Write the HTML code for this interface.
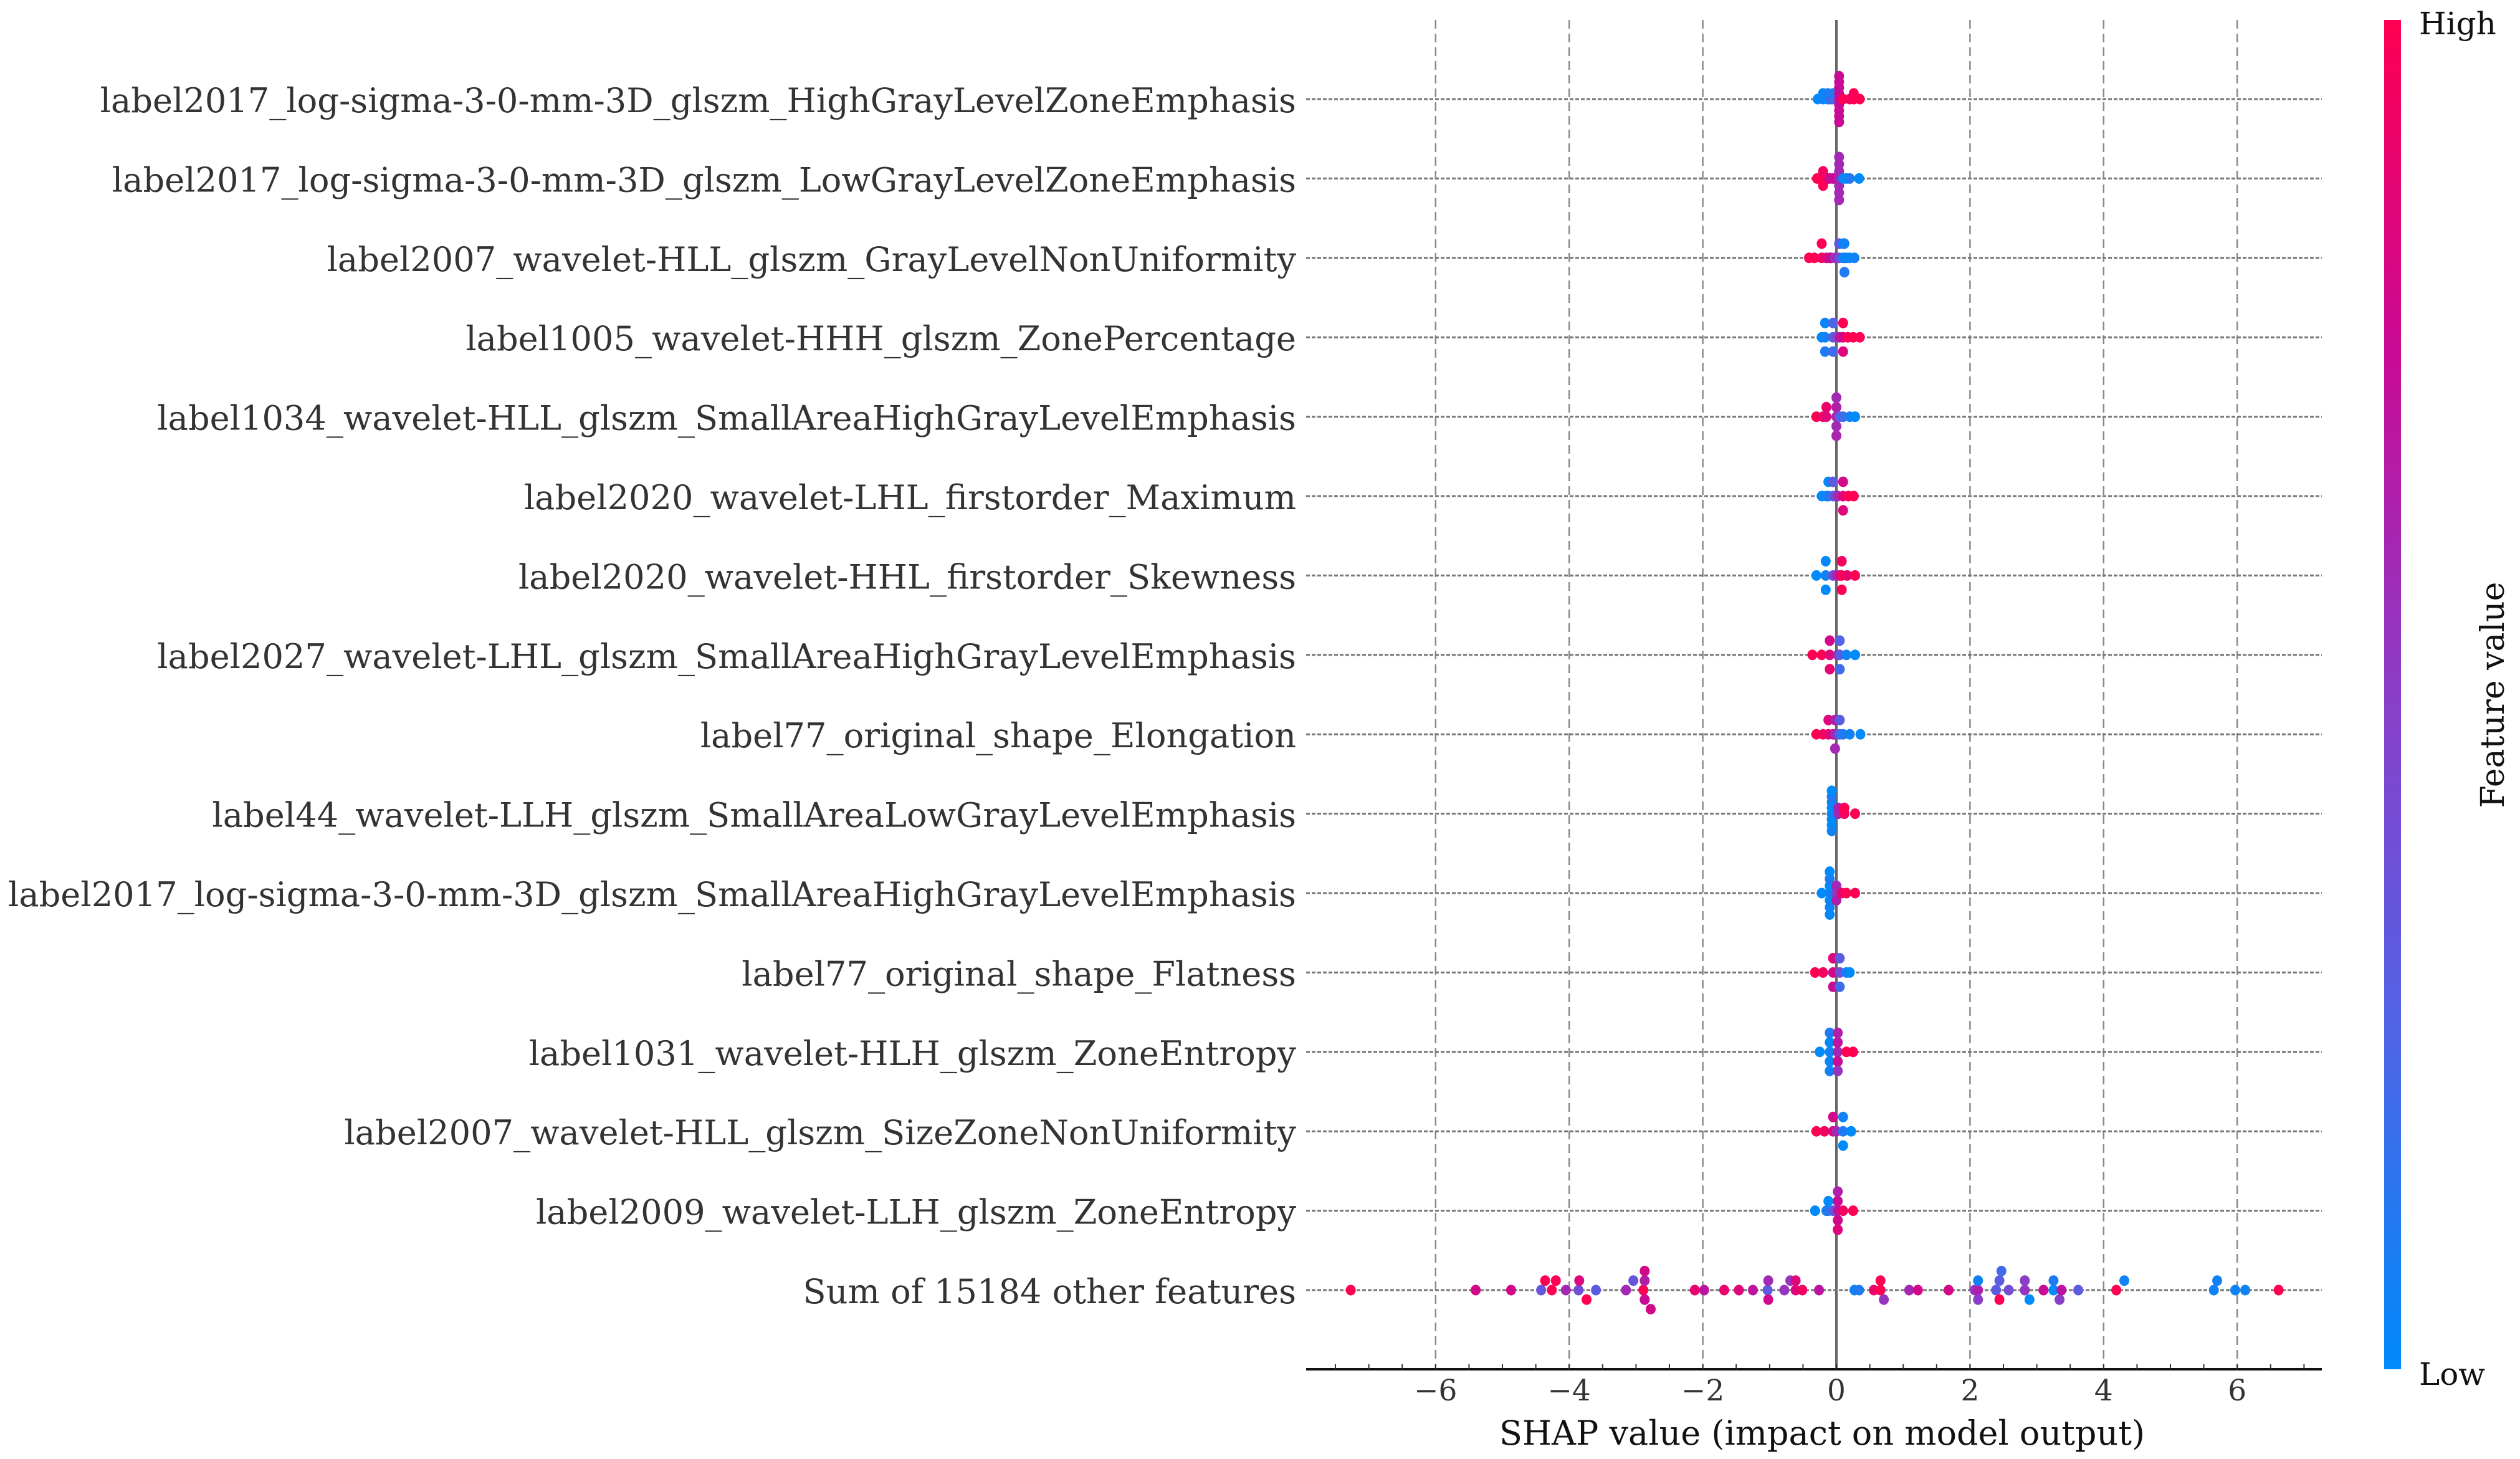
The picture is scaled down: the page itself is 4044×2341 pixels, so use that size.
<!DOCTYPE html>
<html><head><meta charset="utf-8"><style>
html,body{margin:0;padding:0;background:#fff;}
svg{display:block;font-family:"DejaVu Serif","Liberation Serif",serif;}
</style></head><body>
<svg id="chart" width="4044" height="2341" viewBox="0 0 4044 2341" xmlns="http://www.w3.org/2000/svg">
<defs>
<linearGradient id="cbar" x1="0" y1="1" x2="0" y2="0">
<stop offset="0" stop-color="rgb(0,138,250)"/>
<stop offset="0.25" stop-color="rgb(80,100,230)"/>
<stop offset="0.5" stop-color="rgb(138,62,200)"/>
<stop offset="0.75" stop-color="rgb(200,10,150)"/>
<stop offset="1" stop-color="rgb(255,0,82)"/>
</linearGradient>
</defs>
<g id="grid"></g>
<g id="rows"></g>
<g id="dots"></g>
<g id="axis"></g>
<rect x="3826" y="32" width="27" height="2165" fill="url(#cbar)"/>
<text x="3882" y="55" font-size="50" fill="#111">High</text>
<text x="3882" y="2222" font-size="50" fill="#111">Low</text>
<text transform="translate(4018,1115) rotate(-90)" text-anchor="middle" font-size="52" fill="#111">Feature value</text>
<text x="2924" y="2318" text-anchor="middle" font-size="54" fill="#111">SHAP value (impact on model output)</text>
</svg>
<script>
const featureNames = [
"label2017_log-sigma-3-0-mm-3D_glszm_HighGrayLevelZoneEmphasis",
"label2017_log-sigma-3-0-mm-3D_glszm_LowGrayLevelZoneEmphasis",
"label2007_wavelet-HLL_glszm_GrayLevelNonUniformity",
"label1005_wavelet-HHH_glszm_ZonePercentage",
"label1034_wavelet-HLL_glszm_SmallAreaHighGrayLevelEmphasis",
"label2020_wavelet-LHL_firstorder_Maximum",
"label2020_wavelet-HHL_firstorder_Skewness",
"label2027_wavelet-LHL_glszm_SmallAreaHighGrayLevelEmphasis",
"label77_original_shape_Elongation",
"label44_wavelet-LLH_glszm_SmallAreaLowGrayLevelEmphasis",
"label2017_log-sigma-3-0-mm-3D_glszm_SmallAreaHighGrayLevelEmphasis",
"label77_original_shape_Flatness",
"label1031_wavelet-HLH_glszm_ZoneEntropy",
"label2007_wavelet-HLL_glszm_SizeZoneNonUniformity",
"label2009_wavelet-LLH_glszm_ZoneEntropy",
"Sum of 15184 other features"
];
const xTicks = [-6,-4,-2,0,2,4,6];
const xTickLabels = ["\u22126","\u22124","\u22122","0","2","4","6"];

const shap1 = [-0.28,-0.2,-0.2,-0.13,-0.13,-0.12,-0.08,-0.05,-0.05,0.04,0.04,0.04,0.04,0.04,0.04,0.04,0.04,0.04,0.1,0.2,0.26,0.26,0.35];
const feat1 = [0,0.05,0.02,0,0.1,0,0.3,0.2,0.1,0.75,0.75,0.75,0.75,0.75,0.75,0.75,0.75,0.75,1,0.95,1,1,1];
const shap2 = [-0.29,-0.2,-0.2,-0.2,-0.13,-0.1,-0.05,-0.02,0.04,0.04,0.04,0.04,0.04,0.04,0.04,0.1,0.15,0.2,0.34];
const feat2 = [1,1,0.95,1,0.9,0.8,0.7,0.75,0.6,0.6,0.6,0.6,0.6,0.6,0.6,0.05,0,0.1,0];
const shap3 = [-0.41,-0.33,-0.22,-0.22,-0.15,-0.1,-0.08,-0.02,0.0,0.04,0.04,0.1,0.1,0.12,0.12,0.12,0.16,0.2,0.27];
const feat3 = [1,1,0.95,1,0.85,0.8,0.75,0.5,0.6,0.4,0.35,0.1,0.05,0.0,0.05,0.1,0.1,0.0,0.05];
const shap4 = [-0.22,-0.17,-0.17,-0.17,-0.05,-0.05,-0.05,0.0,0.05,0.1,0.1,0.1,0.17,0.25,0.35];
const feat4 = [0,0.05,0.02,0.1,0.3,0.25,0.2,0.4,0.7,0.8,1,0.85,1,1,1];
const shap5 = [-0.3,-0.2,-0.15,-0.15,0,0,0,0,0,0.05,0.1,0.2,0.28];
const feat5 = [1,0.95,0.85,0.9,0.6,0.65,0.6,0.6,0.62,0.3,0.2,0.05,0];
const shap6 = [-0.22,-0.15,-0.12,-0.12,-0.05,-0.05,-0.02,0.02,0.1,0.1,0.1,0.18,0.26];
const feat6 = [0,0.05,0.1,0.02,0.2,0.3,0.4,0.6,0.85,0.8,0.85,1,1];
const shap7 = [-0.3,-0.16,-0.16,-0.16,-0.05,0,0.05,0.08,0.08,0.08,0.16,0.28];
const feat7 = [0,0.05,0.02,0,0.4,0.6,0.7,1,0.95,1,0.9,1];
const shap8 = [-0.36,-0.22,-0.1,-0.1,-0.1,0.02,0.05,0.05,0.05,0.15,0.28];
const feat8 = [1,1,0.85,0.8,0.9,0.6,0.3,0.25,0.2,0.05,0];
const shap9 = [-0.3,-0.2,-0.12,-0.12,-0.05,-0.02,-0.02,-0.02,0.05,0.05,0.1,0.2,0.36];
const feat9 = [1,0.95,0.9,0.85,0.8,0.6,0.65,0.6,0.2,0.3,0.1,0.05,0];
const shap10 = [-0.07,-0.07,-0.07,-0.07,-0.07,-0.07,-0.07,-0.07,0.03,0.03,0.12,0.12,0.28];
const feat10 = [0.05,0,0.02,0.05,0,0.1,0.05,0,0.6,0.65,0.95,1,1];
const shap11 = [-0.22,-0.1,-0.1,-0.1,-0.1,-0.1,-0.1,-0.1,0.0,0.0,0.0,0.08,0.15,0.28];
const feat11 = [0,0.05,0,0.02,0.1,0.05,0,0.02,0.5,0.6,0.65,0.9,1,1];
const shap12 = [-0.32,-0.2,-0.05,-0.05,-0.05,0.05,0.05,0.05,0.15,0.2];
const feat12 = [1,0.95,0.8,0.85,0.75,0.4,0.3,0.2,0.05,0];
const shap13 = [-0.25,-0.1,-0.1,-0.1,-0.1,-0.1,0.02,0.02,0.02,0.02,0.02,0.15,0.25];
const feat13 = [0,0.05,0,0.02,0.1,0.05,0.6,0.7,0.75,0.65,0.55,1,1];
const shap14 = [-0.3,-0.18,-0.05,-0.05,0.0,0.1,0.1,0.1,0.22];
const feat14 = [1,0.95,0.85,0.8,0.6,0.1,0.05,0,0];
const shap15 = [-0.32,-0.15,-0.12,-0.12,-0.05,0.02,0.02,0.02,0.02,0.02,0.1,0.25];
const feat15 = [0,0.05,0.1,0,0.3,0.7,0.75,0.8,0.65,0.85,0.95,1];
const shap16 = [-7.27,-5.4,-4.87,-4.42,-4.26,-4.36,-4.2,-4.05,-3.86,-3.85,-3.74,-3.6,-3.15,-3.04,-2.89,-2.87,-2.87,-2.87,-2.78,-2.12,-1.98,-1.68,-1.46,-1.25,-1.03,-1.02,-1.02,-0.78,-0.69,-0.61,-0.61,-0.51,-0.26,0.27,0.34,0.56,0.66,0.66,0.71,1.09,1.22,1.68,2.07,2.12,2.12,2.12,2.39,2.44,2.44,2.47,2.58,2.82,2.82,2.89,3.1,3.25,3.25,3.34,3.37,3.62,4.19,4.31,5.65,5.7,5.97,6.12,6.62];
const feat16 = [1,0.8,0.8,0.35,1,1,1,0.6,0.4,0.85,1,0.3,0.6,0.35,1,0.65,0.75,0.8,0.8,0.9,0.7,0.9,0.85,0.7,0.3,0.6,0.78,0.55,0.55,0.85,0.85,0.95,0.7,0.05,0.1,0.9,1,1,0.55,0.6,0.8,0.8,0.55,0.65,0.05,0.5,0.3,0.3,1,0.2,0.4,0.55,0.5,0.0,0.75,0.0,0.1,0.5,0.7,0.3,1,0.05,0.05,0.05,0.05,0.05,1];

const shapRows = [shap1,shap2,shap3,shap4,shap5,shap6,shap7,shap8,shap9,shap10,shap11,shap12,shap13,shap14,shap15,shap16];
const featRows = [feat1,feat2,feat3,feat4,feat5,feat6,feat7,feat8,feat9,feat10,feat11,feat12,feat13,feat14,feat15,feat16];

const NS = "http://www.w3.org/2000/svg";
const X0 = 2947, PXU = 107.2, AXL = 2096, AXR = 3726, TOP = 32, AXY = 2197;
const ROW0 = 159, ROWH = 127.4;
const xs = v => X0 + v * PXU;
const ys = i => ROW0 + i * ROWH;
function mk(tag, attrs, parent){const e=document.createElementNS(NS,tag);for(const k in attrs)e.setAttribute(k,attrs[k]);parent.appendChild(e);return e;}
const stops=[[0,[0,138,250]],[0.25,[80,100,230]],[0.5,[138,62,200]],[0.75,[200,10,150]],[1,[255,0,82]]];
function col(t){t=Math.max(0,Math.min(1,t));for(let i=1;i<stops.length;i++){if(t<=stops[i][0]){const a=stops[i-1],b=stops[i];const f=(t-a[0])/(b[0]-a[0]);return "rgb("+a[1].map((c,k)=>Math.round(c+(b[1][k]-c)*f)).join(",")+")";}}return "rgb(255,0,82)";}

const grid=document.getElementById('grid');
xTicks.forEach(t=>{
  if(t===0) return;
  const l=mk('line',{x1:xs(t),x2:xs(t),y1:TOP,y2:AXY,stroke:'#8a8a8a','stroke-width':2.5,'stroke-dasharray':'14,8'},grid);
  
  
});
const rows=document.getElementById('rows');
featureNames.forEach((n,i)=>{
  const l=mk('line',{x1:AXL,x2:AXR,y1:ys(i),y2:ys(i),stroke:'#777','stroke-width':3,'stroke-dasharray':'6,3'},rows);
  
  
  const t=mk('text',{x:2080,y:ys(i)+21,'text-anchor':'end','font-size':54.2,fill:'#333'},rows);
  t.textContent=n;
  
  
});
const zl=mk('line',{x1:xs(0),x2:xs(0),y1:TOP,y2:AXY,stroke:'#666','stroke-width':4},grid);



const dots=document.getElementById('dots');
shapRows.forEach((sv,i)=>{
  const fv=featRows[i];
  const n=sv.length, mn=Math.min(...sv), mx=Math.max(...sv);
  const q=sv.map(v=>Math.round(100*(v-mn)/(mx-mn+1e-8)));
  const order=[...Array(n).keys()].sort((a,b)=>sv[a]-sv[b]||a-b);
  const lay=new Array(n).fill(0);let last=null,layer=0;
  order.forEach(k=>{if(q[k]!==last){layer=0;last=q[k];}lay[k]=Math.ceil(layer/2)*((layer%2)*2-1);layer++;});
  const maxL=Math.max(...lay.map(Math.abs));
  const step=0.36*ROWH/(maxL+1);
  order.forEach(k=>{
    const c=mk('ellipse',{cx:xs(sv[k]),cy:ys(i)-lay[k]*step,rx:8,ry:8.5,fill:col(fv[k])},dots);
    
    
  });
});

const ax=document.getElementById('axis');
const al=mk('line',{x1:AXL,x2:AXR,y1:AXY,y2:AXY,stroke:'#111','stroke-width':4},ax);


for(let v=-7.5;v<=7.5;v+=0.5){
  if(xs(v)<AXL||xs(v)>AXR) continue;
  const tk=mk('line',{x1:xs(v),x2:xs(v),y1:AXY-8,y2:AXY,stroke:'#333','stroke-width':2},ax);
  
  
}
xTicks.forEach((t,i)=>{
  const tx=mk('text',{x:xs(t),y:2247,'text-anchor':'middle','font-size':47,fill:'#333'},ax);
  tx.textContent=xTickLabels[i];
  
  
});
</script>
</body></html>
